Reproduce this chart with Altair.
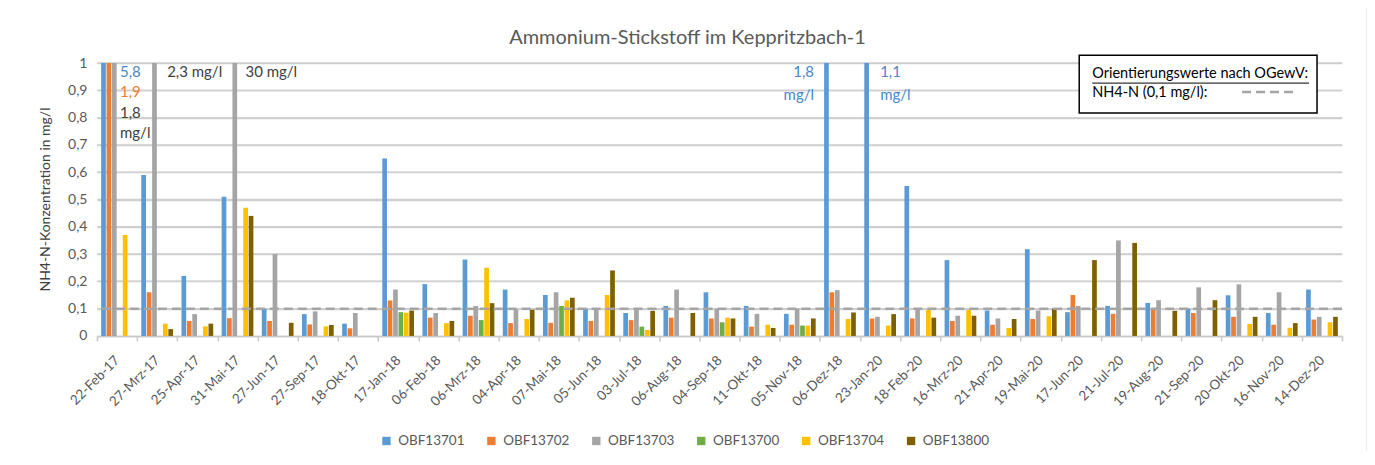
import altair as alt
import pandas as pd

dates = ["22-Feb-17", "27-Mrz-17", "25-Apr-17", "31-Mai-17", "27-Jun-17", "27-Sep-17",
         "18-Okt-17", "17-Jan-18", "06-Feb-18", "06-Mrz-18", "04-Apr-18", "07-Mai-18",
         "05-Jun-18", "03-Jul-18", "06-Aug-18", "04-Sep-18", "11-Okt-18", "05-Nov-18",
         "06-Dez-18", "23-Jan-20", "18-Feb-20", "16-Mrz-20", "21-Apr-20", "19-Mai-20",
         "17-Jun-20", "21-Jul-20", "19-Aug-20", "21-Sep-20", "20-Okt-20", "16-Nov-20",
         "14-Dez-20"]

series = ["OBF13701", "OBF13702", "OBF13703", "OBF13700", "OBF13704", "OBF13800"]
colors = ["#5B9BD5", "#ED7D31", "#A5A5A5", "#70AD47", "#FFC000", "#7F6000"]

obf13701 = [5.8, 0.59, 0.22, 0.51, 0.10, 0.08, 0.045, 0.65, 0.19, 0.28, 0.17, 0.15,
            0.10, 0.084, 0.11, 0.16, 0.11, 0.081, 1.8, 1.1, 0.55, 0.278, 0.093, 0.318,
            0.087, 0.11, 0.121, 0.10, 0.149, 0.084, 0.17]
obf13702 = [1.9, 0.16, 0.055, 0.065, 0.055, 0.042, 0.028, 0.13, 0.067, 0.074, 0.047, 0.048,
            0.055, 0.058, 0.067, 0.064, 0.034, 0.041, 0.16, 0.064, 0.064, 0.055, 0.041, 0.062,
            0.15, 0.081, 0.10, 0.084, 0.07, 0.041, 0.06]
obf13703 = [1.8, 2.3, 0.08, 30.0, 0.30, 0.09, 0.084, 0.17, 0.084, 0.11, 0.098, 0.16,
            0.10, 0.095, 0.17, 0.10, 0.081, 0.10, 0.168, 0.07, 0.10, 0.074, 0.064, 0.093,
            0.11, 0.35, 0.131, 0.178, 0.189, 0.16, 0.07]
obf13700 = [None, None, None, None, None, None, None, 0.087, None, 0.058, None, 0.11,
            None, 0.034, None, 0.05, None, 0.038, None, None, None, None, None, None,
            None, None, None, None, None, None, None]
obf13704 = [0.37, 0.045, 0.035, 0.47, None, 0.035, None, 0.085, 0.047, 0.25, 0.062, 0.13,
            0.15, 0.022, None, 0.067, 0.041, 0.038, 0.062, 0.038, 0.096, 0.095, 0.029, 0.072,
            None, None, None, None, 0.044, 0.03, 0.05]
obf13800 = [None, 0.025, 0.045, 0.44, 0.048, 0.04, None, 0.093, 0.055, 0.12, 0.096, 0.14,
            0.24, 0.092, 0.084, 0.064, 0.029, 0.064, 0.086, 0.08, 0.067, 0.074, 0.062, 0.10,
            0.278, 0.341, 0.092, 0.131, 0.07, 0.047, 0.07]

threshold = 0.1
y_ticks = [0, 0.1, 0.2, 0.3, 0.4, 0.5, 0.6, 0.7, 0.8, 0.9, 1.0]

title_text = "Ammonium-Stickstoff im Keppritzbach-1"

# annotations for clipped bars
ann_left_date = ["22-Feb-17", "22-Feb-17", "22-Feb-17", "22-Feb-17", "27-Mrz-17", "31-Mai-17", "23-Jan-20", "23-Jan-20"]
ann_left_val = [0.967, 0.893, 0.817, 0.743, 0.967, 0.967, 0.967, 0.882]
ann_left_text = ["5,8", "1,9", "1,8", "mg/l", "2,3 mg/l", "30 mg/l", "1,1", "mg/l"]
ann_left_color = ["#4A86C8", "#ED7D31", "#404040", "#404040", "#404040", "#404040", "#4A86C8", "#4A86C8"]
ann_left_dx = [3, 3, 3, 3, 10, 8, 0, 0]

ann_right_date = ["06-Dez-18", "06-Dez-18"]
ann_right_val = [0.967, 0.882]
ann_right_text = ["1,8", "mg/l"]

FONT = "Lato"
GREY = "#595959"

all_vals = [obf13701, obf13702, obf13703, obf13700, obf13704, obf13800]
rows = []
for s, vals in zip(series, all_vals):
    for d, v in zip(dates, vals):
        if v is not None:
            rows.append({"date": d, "series": s, "value": v})
df = pd.DataFrame(rows)

x_scale = alt.Scale(domain=dates, paddingInner=0, paddingOuter=0)
x_axis = alt.Axis(title=None, labelAngle=-45, labelAlign="right", labelBaseline="middle",
                  labelFontSize=13.5, labelColor=GREY, labelFont=FONT, labelPadding=17,
                  labelOverlap=False,
                  tickBand="extent", ticks=True, tickSize=5, tickColor="#C8C8C8", tickWidth=1.5,
                  domainColor="#C8C8C8", domainWidth=1.5, grid=False)
y_scale = alt.Scale(domain=[0, 1], nice=False, zero=True)
y_axis = alt.Axis(title="NH4-N-Konzentration in mg/l", values=y_ticks,
                  labelExpr="replace(format(datum.value, '.1~f'), '.', ',')",
                  labelOverlap=False, labelFlush=False,
                  labelFontSize=14, labelColor=GREY, labelFont=FONT, labelPadding=10,
                  ticks=False, domain=False, grid=True, gridColor="#CFCFCF", gridWidth=1.5,
                  titleFontSize=14, titleColor="#404040", titleFont=FONT, titleFontWeight="normal",
                  titleX=-51, titleY=136, titleAngle=-90, titleAlign="center", titleBaseline="middle")


def xe():
    return alt.X("date:N", sort=dates, scale=x_scale, axis=x_axis)


def ye(field):
    return alt.Y(field, scale=y_scale, axis=y_axis)


grid = alt.Chart(pd.DataFrame({"value": y_ticks[1:]})).mark_rule(
    color="#CFCFCF", strokeWidth=1.5).encode(y=ye("value:Q"), x=alt.value(0), x2=alt.value(1246))

bars = alt.Chart(df).mark_bar(clip=True).encode(
    x=xe(),
    xOffset=alt.XOffset("series:N", sort=series,
                        scale=alt.Scale(domain=series, paddingInner=0.13, paddingOuter=0.78)),
    y=ye("value:Q"),
    color=alt.Color("series:N", sort=series,
                    scale=alt.Scale(domain=series, range=colors),
                    legend=alt.Legend(title=None, orient="none", direction="horizontal",
                                      legendX=283, legendY=371, symbolType="square", symbolSize=70,
                                      symbolStrokeWidth=0, labelFontSize=13.5, labelColor=GREY,
                                      labelFont=FONT, columnPadding=20, labelOffset=5)),
)

thr = alt.Chart(pd.DataFrame({"value": [threshold]})).mark_rule(
    color="#A5A5A5", strokeWidth=2.5, strokeDash=[9, 5]).encode(y=ye("value:Q"))

ann_layers = []
for i in range(len(ann_left_text)):
    sub = pd.DataFrame({"date": [ann_left_date[i]], "value": [ann_left_val[i]], "text": [ann_left_text[i]]})
    ann_layers.append(alt.Chart(sub).mark_text(align="left", baseline="middle", dx=ann_left_dx[i],
                                               fontSize=15, font=FONT, color=ann_left_color[i]).encode(
        x=xe(), y=ye("value:Q"), text="text:N"))
ann_r = alt.Chart(pd.DataFrame({"date": ann_right_date, "value": ann_right_val, "text": ann_right_text})).mark_text(
    align="right", baseline="middle", dx=-26, fontSize=15, font=FONT, color="#4A86C8").encode(
    x=xe(), y=ye("value:Q"), text="text:N")

one = pd.DataFrame({"a": [0]})
title_mark = alt.Chart(one).mark_text(align="center", baseline="middle", fontSize=20, font=FONT, color=GREY,
                                      text=title_text).encode(x=alt.value(591), y=alt.value(-25))
box = alt.Chart(one).mark_rect(fill="white", stroke="black", strokeWidth=1.5).encode(
    x=alt.value(983), x2=alt.value(1221), y=alt.value(-8), y2=alt.value(50))
box_t1 = alt.Chart(one).mark_text(align="left", baseline="middle", fontSize=14.5, font=FONT, color="#000000",
                                  text="Orientierungswerte nach OGewV:").encode(x=alt.value(996), y=alt.value(11))
box_u = alt.Chart(one).mark_rule(color="#000000", strokeWidth=1).encode(
    x=alt.value(996), x2=alt.value(1213), y=alt.value(20))
box_t2 = alt.Chart(one).mark_text(align="left", baseline="middle", fontSize=14.5, font=FONT, color="#000000",
                                  text="NH4-N (0,1 mg/l):").encode(x=alt.value(996), y=alt.value(30))
box_dash = alt.Chart(one).mark_rule(color="#A5A5A5", strokeWidth=2.5, strokeDash=[9, 5]).encode(
    x=alt.value(1146), x2=alt.value(1200), y=alt.value(29))
frame = alt.Chart(one).mark_rect(fillOpacity=0, stroke="#D9D9D9", strokeWidth=1).encode(
    x=alt.value(-92), x2=alt.value(1271), y=alt.value(-58), y2=alt.value(398))

chart = alt.layer(grid, bars, frame, title_mark, thr, *ann_layers, ann_r, box, box_u, box_t1, box_t2,
                  box_dash).properties(
    width=1246, height=273,
    autosize=alt.AutoSizeParams(type="none"),
    padding={"left": 89, "top": 55, "right": 25, "bottom": 115},
).configure_view(stroke=None)

chart.save("out.html", embed_options={"renderer": "svg", "actions": False})
